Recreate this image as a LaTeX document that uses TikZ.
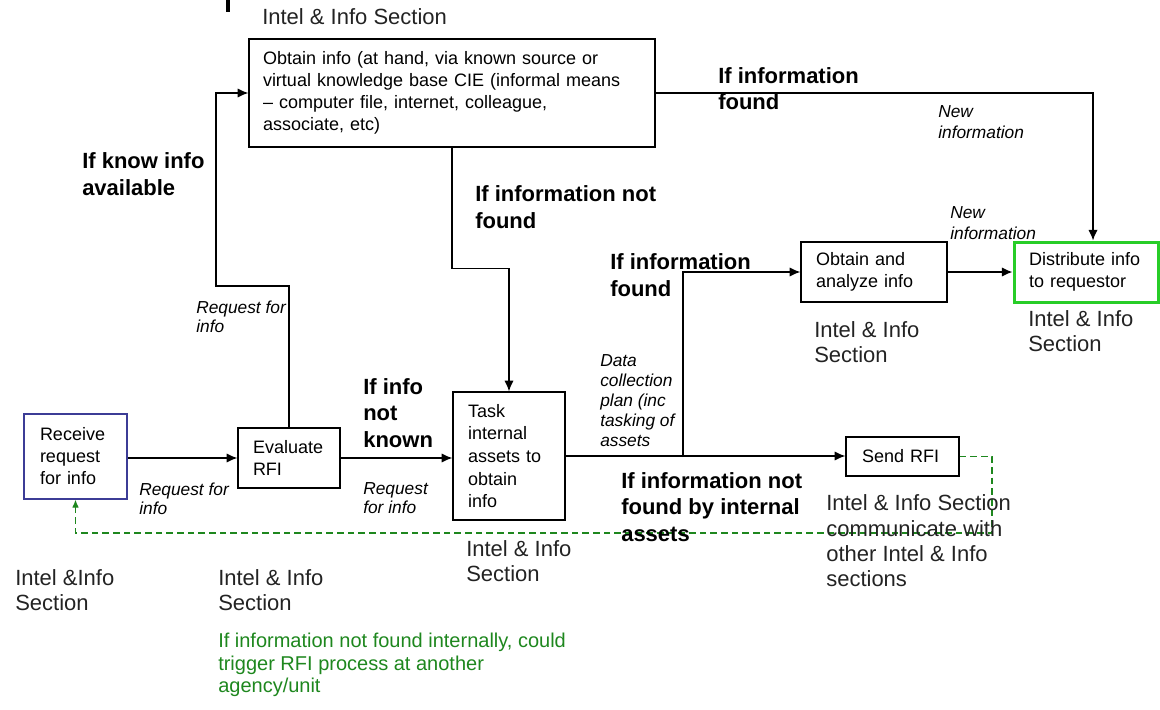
\documentclass[tikz,border=0pt]{standalone}
\usepackage{fontspec}
\setmainfont{Liberation Sans}
\usetikzlibrary{arrows.meta}

\definecolor{recvblue}{RGB}{60,60,150}
\definecolor{distgreen}{RGB}{40,205,40}
\definecolor{fbgreen}{RGB}{30,135,30}
\definecolor{lblgray}{RGB}{35,35,35}

\begin{document}
\begin{tikzpicture}[
	x=0.75pt, y=-0.75pt,
	procbox/.style={draw=black, line width=1pt, align=left, inner ysep=0pt, font=\fontsize{13.5}{16.5}\selectfont},
	lbl/.style={anchor=west, inner sep=0pt, align=left, text=lblgray, font=\fontsize{16.5}{19}\selectfont},
	cond/.style={anchor=west, inner sep=0pt, align=left, font=\fontsize{16.5}{20}\selectfont\bfseries},
	note/.style={anchor=west, inner sep=0pt, align=left, font=\fontsize{13}{14.25}\selectfont\itshape},
	flow/.style={line width=1pt, -{Latex[length=8pt, width=7pt]}},
	fb/.style={draw=fbgreen, line width=0.8pt, dash pattern=on 5pt off 3pt, -{Latex[length=6pt, width=5pt]}}
]
	\useasboundingbox (0,0) rectangle (1160,710);
	\fill (226,0) rectangle (230,12);

	% process boxes
	\node[procbox, text width=283.5pt, inner xsep=10.5pt, minimum height=81pt] (obtainbox) at (452,93)
		{Obtain info (at hand, via known source or\\virtual knowledge base CIE (informal means\\-- computer file, internet, colleague,\\associate, etc)};
	\node[procbox, draw=recvblue, text width=53.25pt, inner xsep=12pt, minimum height=63.75pt] (recvbox) at (75.5,456.5)
		{Receive\\request\\for info};
	\node[procbox, text width=54pt, inner xsep=11.25pt, minimum height=45pt] (evalbox) at (289,458)
		{Evaluate\\RFI};
	\node[procbox, text width=61.5pt, inner xsep=11.25pt, minimum height=96pt, font=\fontsize{13.5}{17}\selectfont] (taskbox) at (509,456)
		{Task\\internal\\assets to\\obtain\\info};
	\node[procbox, text width=87pt, inner xsep=11.25pt, minimum height=45pt] (anabox) at (874,272)
		{Obtain and\\analyze info};
	\node[procbox, draw=distgreen, line width=2.25pt, text width=85.5pt, inner xsep=11.25pt, minimum height=45pt] (distbox) at (1086,272)
		{Distribute info\\to requestor};
	\node[procbox, text width=60.75pt, inner xsep=12pt, minimum height=29.25pt] (sendbox) at (902.5,456.5)
		{Send RFI};

	% connectors
	\coordinate (kn1) at (216,286);
	\coordinate (br) at (683,457);
	\coordinate (fbk) at (992,533);
	\draw[flow] (recvbox.east |- evalbox.west) -- (evalbox.west);
	\draw[flow] (evalbox.east) -- (evalbox.east -| taskbox.west);
	\draw[flow] (evalbox.north) |- (kn1) |- (obtainbox.west);
	\draw[flow] (obtainbox.east) -| ([xshift=5.25pt]distbox.north);
	\draw[flow] (obtainbox.south) -- ++(0,121) -| (taskbox.north);
	\draw[flow] (taskbox.east) -- (taskbox.east -| sendbox.west);
	\draw[flow] (br) |- (anabox.west);
	\draw[flow] (anabox.east) -- (distbox.west);
	\draw[fb] (sendbox.east) -| (fbk) -| (recvbox.south);

	% section labels
	\node[lbl] (lbltop) at (262,17) {Intel \& Info Section};
	\node[lbl] (lblrecv) at (15,590) {Intel \&Info\\Section};
	\node[lbl] (lbleval) at (218,590) {Intel \& Info\\Section};
	\node[lbl] (lbltask) at (466,561) {Intel \& Info\\Section};
	\node[lbl] (lblana) at (814,342) {Intel \& Info\\Section};
	\node[lbl] (lbldist) at (1028,331) {Intel \& Info\\Section};
	\node[lbl] (lblsend) at (826,541) {Intel \& Info Section\\communicate with\\other Intel \& Info\\sections};
	\node[lbl, text=fbgreen, font=\fontsize{15}{17}\selectfont] (lblfb) at (218,665)
		{If information not found internally, could\\trigger RFI process at another\\agency/unit};

	% conditions
	\node[cond] (cknow) at (82,174) {If know info\\available};
	\node[cond] (cfound1) at (718,88.5) {If information\\found};
	\node[cond] (cnotfound1) at (475,207) {If information not\\found};
	\node[cond] (cfound2) at (610,275) {If information\\found};
	\node[cond] (cnotknown) at (363,413) {If info\\not\\known};
	\node[cond] (cnotfound2) at (621,507) {If information not\\found by internal\\assets};

	% flow notes
	\node[note] (nreq1) at (196,317) {Request for\\info};
	\node[note] (nreq2) at (139,499) {Request for\\info};
	\node[note] (nreq3) at (363,498) {Request\\for info};
	\node[note, font=\fontsize{13}{15}\selectfont\itshape] (ndata) at (600,400.5) {Data\\collection\\plan (inc\\tasking of\\assets};
	\node[note, font=\fontsize{13}{15.75}\selectfont\itshape] (nnew1) at (938,122.5) {New\\information};
	\node[note, font=\fontsize{13}{15.75}\selectfont\itshape] (nnew2) at (950,223.5) {New\\information};
\end{tikzpicture}
\end{document}
